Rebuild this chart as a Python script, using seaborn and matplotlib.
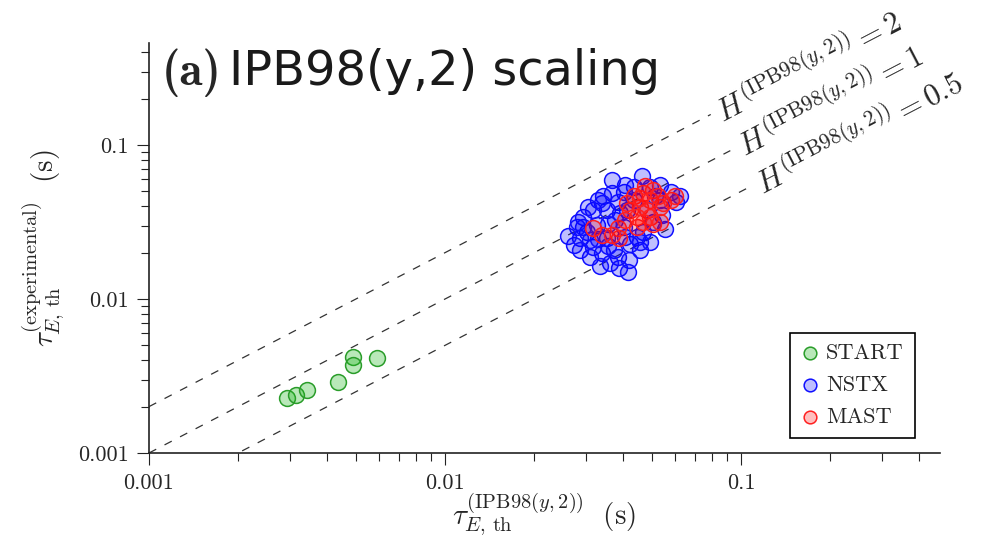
import numpy as np
import pandas as pd
import matplotlib
matplotlib.use("Agg")
import matplotlib.pyplot as plt
from matplotlib.ticker import NullFormatter
import seaborn as sns

# ---------------- data ----------------
start_x = [0.00292, 0.00314, 0.00341, 0.00435, 0.00489, 0.00489, 0.00588]
start_y = [0.00226, 0.00238, 0.00257, 0.00290, 0.00422, 0.00373, 0.00414]

nstx_x = [0.0462, 0.0436, 0.0403, 0.0366, 0.0342, 0.0383, 0.0352, 0.0317, 0.0293, 0.0326,
          0.0302, 0.0286, 0.0272, 0.0317, 0.0338, 0.0309, 0.0371, 0.0383, 0.0387, 0.0418,
          0.0456, 0.0422, 0.0403, 0.0376, 0.0412, 0.0436, 0.0493, 0.0533, 0.0581, 0.0603,
          0.0553, 0.0506, 0.0468, 0.0445, 0.0352, 0.0406, 0.0338, 0.0361, 0.0293, 0.0456,
          0.0480, 0.0512, 0.0279, 0.0309, 0.0329, 0.0355, 0.0390, 0.0533, 0.0622,
          0.0329, 0.0304, 0.0281, 0.0260, 0.0334, 0.0415, 0.0493, 0.0541, 0.0367, 0.0406,
          0.0286, 0.0355]
nstx_y = [0.0628, 0.0533, 0.0492, 0.0488, 0.0464, 0.0428, 0.0378, 0.0378, 0.0340, 0.0302,
          0.0272, 0.0248, 0.0225, 0.0219, 0.0198, 0.0188, 0.0208, 0.0188, 0.0158, 0.0180,
          0.0208, 0.0229, 0.0294, 0.0326, 0.0378, 0.0439, 0.0537, 0.0551, 0.0497, 0.0428,
          0.0283, 0.0316, 0.0272, 0.0252, 0.0248, 0.0252, 0.0418, 0.0171, 0.0294, 0.0234,
          0.0378, 0.0464, 0.0294, 0.0242, 0.0246, 0.0309, 0.0364, 0.0439, 0.0464,
          0.0439, 0.0396, 0.0316, 0.0256, 0.0164, 0.0150, 0.0234, 0.0351, 0.0593, 0.0550,
          0.0208, 0.0221]

mast_x = [0.0317, 0.0338, 0.0383, 0.0387, 0.0366, 0.0436, 0.0468, 0.0506, 0.0456, 0.0493,
          0.0480, 0.0422, 0.0445, 0.0493, 0.0445, 0.0506, 0.0533, 0.0545, 0.0581, 0.0526,
          0.0468, 0.0412, 0.0406, 0.0456, 0.0533, 0.0598, 0.0474]
mast_y = [0.0288, 0.0260, 0.0288, 0.0248, 0.0260, 0.0464, 0.0488, 0.0513, 0.0397, 0.0439,
          0.0378, 0.0378, 0.0340, 0.0340, 0.0294, 0.0309, 0.0397, 0.0418, 0.0439, 0.0464,
          0.0316, 0.0418, 0.0326, 0.0453, 0.0316, 0.0466, 0.0542]

H_values = [2, 1, 0.5]
H_labels = ["2", "1", "0.5"]
line_end_x = [0.079, 0.092, 0.104]
label_x = [0.0836, 0.0993, 0.114]

ticks = [0.001, 0.01, 0.1]
tick_labels = ["0.001", "0.01", "0.1"]

# ---------------- style ----------------
sns.set_style("ticks")
plt.rcParams["font.family"] = ["cmr10", "DejaVu Sans"]
plt.rcParams["mathtext.fontset"] = "cm"
plt.rcParams["axes.unicode_minus"] = False
plt.rcParams["axes.formatter.use_mathtext"] = True

fig = plt.figure(figsize=(10, 5.41), dpi=100)
ax = fig.add_axes([0.149, 0.1627, 0.791, 0.7578])
ax.set_xscale("log")
ax.set_yscale("log")
ax.set_xlim(0.001, 0.47)
ax.set_ylim(0.001, 0.46)

# reference lines
for H, xe in zip(H_values, line_end_x):
    xs = [0.001, xe]
    ys = [H * v for v in xs]
    ax.plot(xs, ys, color="#333333", lw=0.9, linestyle=(0, (6.5, 7.5)), zorder=1)

# scatter
sns.scatterplot(x=start_x, y=start_y, ax=ax, s=130, facecolor=(0.1, 0.7, 0.1, 0.3),
                edgecolor="#2a9d2a", linewidth=1.1, label="START", zorder=3)
sns.scatterplot(x=nstx_x, y=nstx_y, ax=ax, s=130, facecolor=(0.0, 0.0, 1.0, 0.25),
                edgecolor="#1010ff", linewidth=1.1, label="NSTX", zorder=3)
sns.scatterplot(x=mast_x, y=mast_y, ax=ax, s=130, facecolor=(1.0, 0.0, 0.0, 0.25),
                edgecolor="#ff2020", linewidth=1.1, label="MAST", zorder=4)

# ticks
ax.set_xticks(ticks, labels=tick_labels)
ax.set_yticks(ticks, labels=tick_labels)
ax.xaxis.set_minor_formatter(NullFormatter())
ax.yaxis.set_minor_formatter(NullFormatter())
ax.tick_params(which="major", direction="out", length=8.5, width=0.8, labelsize=16, pad=6, color="#222222")
ax.tick_params(which="minor", direction="out", length=6, width=0.8, color="#222222")
sns.despine(ax=ax)
for sp in ["left", "bottom"]:
    ax.spines[sp].set_linewidth(1.2)
    ax.spines[sp].set_color("#222222")

ax.set_xlabel(r"$\tau_{E,\,\mathrm{th}}^{(\mathrm{IPB98}(y,2))}\ \ (\mathrm{s})$", fontsize=21)
ax.set_ylabel(r"$\tau_{E,\,\mathrm{th}}^{(\mathrm{experimental})}\ \ (\mathrm{s})$", fontsize=21)
ax.xaxis.set_label_coords(0.5, -0.095)
ax.yaxis.set_label_coords(-0.104, 0.5)

# line labels
p1 = ax.transData.transform((0.01, 0.01))
p2 = ax.transData.transform((0.1, 0.1))
angle = np.degrees(np.arctan2(p2[1] - p1[1], p2[0] - p1[0]))
for H, lx, lab in zip(H_values, label_x, H_labels):
    ax.text(lx, H * lx * 0.96, rf"$H^{{(\mathrm{{IPB98}}(y,2))}} = {lab}$", rotation=angle,
            rotation_mode="anchor", ha="left", va="center", fontsize=22)

# title
ax.text(0.0164, 0.8976, "(a)", transform=ax.transAxes, fontsize=34,
        family=["cmb10", "DejaVu Serif"], ha="left", va="baseline")
ax.text(0.101, 0.8976, "IPB98(y,2) scaling", transform=ax.transAxes, fontsize=34.5,
        family=["DejaVu Sans"], ha="left", va="baseline", color="#1a1a1a")

leg = ax.legend(loc="lower right", bbox_to_anchor=(0.968, 0.0366), borderaxespad=0,
                frameon=True, fancybox=False, edgecolor="black", framealpha=1,
                fontsize=16, handlelength=0.8, handletextpad=0.3, borderpad=0.5,
                labelspacing=0.55, markerscale=0.8)
leg.get_frame().set_linewidth(1.2)

fig.savefig("out.png", dpi=100)
